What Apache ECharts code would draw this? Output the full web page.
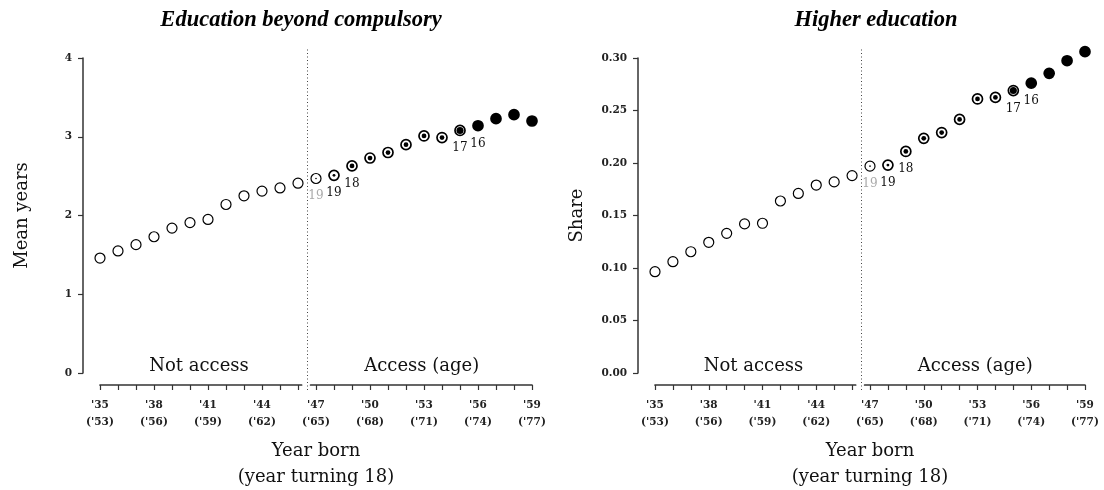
<!DOCTYPE html>
<html><head><meta charset="utf-8">
<script src="https://cdn.jsdelivr.net/npm/echarts@6/dist/echarts.min.js"></script>
<style>html,body{margin:0;padding:0;background:#fff}#c{width:1104px;height:490px}</style>
</head><body><div id="c"></div>
<script>
// ---- data ----
const years = [1935,1936,1937,1938,1939,1940,1941,1942,1943,1944,1945,1946,1947,1948,1949,1950,1951,1952,1953,1954,1955,1956,1957,1958,1959];
const eduMeanYears = [1.46,1.55,1.63,1.73,1.84,1.91,1.95,2.14,2.25,2.31,2.35,2.41,2.47,2.51,2.63,2.73,2.80,2.90,3.01,2.99,3.08,3.14,3.23,3.28,3.20];
const higherShare = [0.0965,0.106,0.1155,0.1245,0.133,0.142,0.1426,0.1638,0.171,0.179,0.182,0.188,0.197,0.198,0.211,0.2235,0.229,0.2415,0.261,0.2625,0.269,0.276,0.2854,0.2974,0.306];
const accessShare = [0,0,0,0,0,0,0,0,0,0,0,0,0.15,0.3,0.5,0.5,0.5,0.5,0.5,0.5,0.75,1,1,1,1];
const accessAgeYears = [1947,1948,1949,1955,1956];
const accessAgeText = ['19','19','18','17','16'];
const accessAgeMuted = [true,false,false,false,false];
const xLabelYears = [1935,1938,1941,1944,1947,1950,1953,1956,1959];
const regionLabels = ['Not access','Access (age)'];
const splitYear = 1946.5;
const titles = ['Education beyond compulsory','Higher education'];
const yNames = ['Mean years','Share'];
const yScales = [{min:0,max:4,interval:1,dec:0},{min:0,max:0.30,interval:0.05,dec:2}];

// ---- layout / style ----
const X0 = 1935, X1 = 1959;
const segAEnd = 1946.2, segBStart = 1946.7;
const TOP = 58, H = 315;
const panels = [
  {left:100, width:432, titleX:296, values:eduMeanYears},
  {left:655, width:430, titleX:871, values:higherShare}
];
const serif = "'DejaVu Serif', serif";
const tickFont = "'DejaVu Serif', serif";
const axisColor = '#333';
const textColor = '#111';

const option = {animation:false, backgroundColor:'#fff', title:[], grid:[], xAxis:[], yAxis:[], series:[]};

function tickLabel(v){
  const yy = Math.round(v);
  return "'" + String(yy % 100) + "\n('" + String((yy + 18) % 100) + ")";
}
function mkGrid(left, top, width, height){
  return {left:left, top:top, width:width, height:height, containLabel:false, outerBoundsMode:'none'};
}

panels.forEach((p, k) => {
  const ppy = p.width / (X1 - X0);
  const g = k * 4;
  const ys = yScales[k];
  option.title.push({text:titles[k], left:p.titleX, top:4, textAlign:'center',
    textStyle:{fontFamily:"'Liberation Serif', serif", fontStyle:'italic', fontWeight:'bold', fontSize:22.5, color:'#000'}});
  option.grid.push(
    mkGrid(p.left, TOP, p.width, H),
    mkGrid(p.left, TOP-10, p.width, H+27),
    mkGrid(p.left, TOP, (segAEnd-X0)*ppy, H),
    mkGrid(p.left+(segBStart-X0)*ppy, TOP, (X1-segBStart)*ppy, H)
  );
  // grid Y: main plot, x axis only for its name
  option.xAxis.push({gridIndex:g, type:'value', min:X0, max:X1, offset:12,
    axisLine:{show:false, onZero:false}, axisTick:{show:false}, axisLabel:{show:false}, splitLine:{show:false},
    name:'Year born\n(year turning 18)', nameLocation:'middle', nameGap:53,
    nameTextStyle:{fontFamily:serif, fontSize:18, color:textColor, lineHeight:26}});
  option.yAxis.push({gridIndex:g, type:'value', min:ys.min, max:ys.max, interval:ys.interval, offset:17,
    axisLine:{show:true, onZero:false, lineStyle:{color:axisColor, width:1.5}},
    axisTick:{show:true, length:5, lineStyle:{color:axisColor, width:1.2}},
    axisLabel:{margin:11, fontFamily:tickFont, fontWeight:'bold', fontSize:10.5, color:'#222',
      formatter:(v)=>v.toFixed(ys.dec)},
    splitLine:{show:false},
    name:yNames[k], nameLocation:'middle', nameGap:51.5,
    nameTextStyle:{fontFamily:serif, fontSize:18, color:textColor}});
  // grid D: divider
  option.xAxis.push({gridIndex:g+1, type:'value', min:X0, max:X1, show:false});
  option.yAxis.push({gridIndex:g+1, type:'value', min:0, max:1, show:false});
  // grid A / B: broken x axis
  const segs = [[X0, segAEnd],[segBStart, X1]];
  segs.forEach((s, j) => {
    const tv = years.filter(y => y >= s[0] && y <= s[1]);
    const lv = xLabelYears.filter(y => y >= s[0] && y <= s[1]);
    option.xAxis.push({gridIndex:g+2+j, type:'value', min:s[0], max:s[1], offset:12,
      axisLine:{show:true, onZero:false, lineStyle:{color:axisColor, width:1.7}},
      axisTick:{show:true, length:5, customValues:tv, lineStyle:{color:axisColor, width:1.2}},
      axisLabel:{show:true, customValues:lv, margin:12, formatter:tickLabel,
        fontFamily:tickFont, fontWeight:'bold', fontSize:10.5, lineHeight:17, color:'#222'},
      splitLine:{show:false}});
    option.yAxis.push({gridIndex:g+2+j, type:'value', min:0, max:1, show:false});
  });

  const outerData = years.map((y, i) => {
    const s = accessShare[i];
    const li = accessAgeYears.indexOf(y);
    return {
      value:[y, p.values[i]],
      itemStyle:{color: s >= 1 ? '#000' : '#fff', borderColor:'#000', borderWidth: s > 0.2 ? 1.7 : 1.2, opacity:1},
      label: li >= 0 ? {show:true, formatter:accessAgeText[li], color: accessAgeMuted[li] ? '#aaa' : textColor} : {show:false}
    };
  });
  option.series.push({
    type:'scatter', xAxisIndex:g, yAxisIndex:g, symbol:'circle', symbolSize:10, clip:false,
    data:outerData, silent:true,
    label:{position:'bottom', distance:6, fontFamily:serif, fontSize:12},
    markArea:{silent:true, itemStyle:{color:'rgba(0,0,0,0)'},
      label:{position:'insideBottom', distance:-2, fontFamily:serif, fontSize:18, color:textColor},
      data:[[{xAxis:X0, name:regionLabels[0]},{xAxis:years[11]}],
            [{xAxis:segBStart+0.05, name:regionLabels[1]},{xAxis:X1}]]}
  });
  const innerData = [];
  years.forEach((y, i) => {
    const s = accessShare[i];
    if (s > 0 && s < 1) innerData.push({value:[y, p.values[i]], symbolSize:Math.max(1.6, s*9.5)});
  });
  option.series.push({type:'scatter', xAxisIndex:g, yAxisIndex:g, symbol:'circle', clip:false,
    itemStyle:{color:'#000', opacity:1}, data:innerData, silent:true});
  option.series.push({type:'line', xAxisIndex:g+1, yAxisIndex:g+1, data:[], silent:true,
    markLine:{silent:true, symbol:['none','none'], label:{show:false},
      lineStyle:{color:'#444', width:1, type:[1,2.5]}, data:[{xAxis:splitYear}]}});
});

const chart = echarts.init(document.getElementById('c'), null, {renderer:'canvas'});
chart.setOption(option);
</script>
</body></html>
